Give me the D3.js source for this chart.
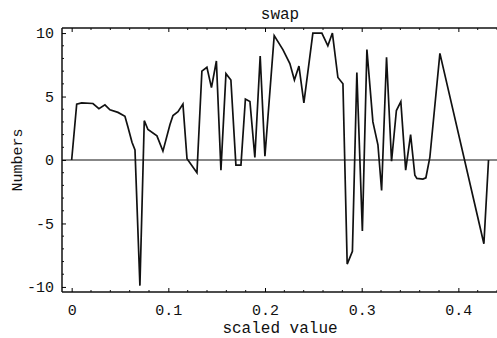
<!DOCTYPE html>
<html>
<head>
<meta charset="utf-8">
<script src="https://cdn.jsdelivr.net/npm/d3@7"></script>
<style>
  html, body { margin: 0; padding: 0; background: #fff; }
  svg { display: block; }
  text { font-family: "Courier New", Courier, "Liberation Mono", "DejaVu Sans Mono", monospace; fill: #111; }
</style>
</head>
<body>
<svg id="chart" width="497" height="338"></svg>
<script>
const titleText = "swap";
const xLabel = "scaled value";
const yLabel = "Numbers";
const xTicks = [0, 0.1, 0.2, 0.3, 0.4];
const xTickLabels = ["0", "0.1", "0.2", "0.3", "0.4"];
const yTicks = [-10, -5, 0, 5, 10];
const yTickLabels = ["-10", "-5", "0", "5", "10"];

const xValues = [0, 0.0052, 0.0103, 0.0220, 0.0282, 0.0344, 0.0396, 0.0479, 0.0551, 0.0582,
  0.0624, 0.0655, 0.0706, 0.0751, 0.0789, 0.0882, 0.0944, 0.1017, 0.1048, 0.1100,
  0.1151, 0.1193, 0.1296, 0.1347, 0.1399, 0.1446, 0.1497, 0.1544, 0.1596, 0.1647,
  0.1699, 0.1751, 0.1797, 0.1844, 0.1895, 0.1950, 0.1999, 0.2095, 0.2185, 0.2257,
  0.2304, 0.2351, 0.2402, 0.2495, 0.2588, 0.2650, 0.2697, 0.2754, 0.2806, 0.2850,
  0.2904, 0.2950, 0.3007, 0.3054, 0.3116, 0.3168, 0.3206, 0.3257, 0.3309, 0.3359,
  0.3405, 0.3455, 0.3506, 0.3550, 0.3571, 0.3633, 0.3664, 0.3705, 0.3809, 0.4264,
  0.4312];
const yValues = [0, 4.4, 4.5, 4.45, 4.05, 4.35, 3.95, 3.75, 3.45, 2.6,
  1.4, 0.8, -9.9, 3.1, 2.4, 1.9, 0.7, 2.8, 3.5, 3.8,
  4.4, 0.1, -1.0, 7.0, 7.3, 5.7, 7.8, -0.8, 6.8, 6.3,
  -0.4, -0.4, 4.8, 4.6, 0.2, 8.2, 0.3, 9.8, 8.7, 7.6,
  6.3, 7.4, 4.5, 10, 10, 9.0, 10, 6.5, 6.0, -8.2,
  -7.2, 6.9, -5.6, 8.7, 3.0, 1.2, -2.4, 8.1, -0.1, 3.9,
  4.6, -0.8, 2.0, -1.2, -1.45, -1.5, -1.4, 0.2, 8.4, -6.6,
  0];

const svg = d3.select("#chart");
const mLeft = 62, mRight = 498, mTop = 28, mBottom = 292;

const x = d3.scaleLinear().domain([-0.01, 0.441]).range([mLeft, mRight]);
const y = d3.scaleLinear().domain([-10.4, 10.4]).range([mBottom, mTop]);

// frame
const frame = svg.append("g").attr("stroke", "#111").attr("fill", "none");
frame.append("line").attr("x1", mLeft).attr("x2", mRight).attr("y1", mTop).attr("y2", mTop).attr("stroke-width", 1.3);
frame.append("line").attr("x1", mLeft).attr("x2", mRight).attr("y1", mBottom).attr("y2", mBottom).attr("stroke-width", 1.5);
frame.append("line").attr("x1", mLeft).attr("x2", mLeft).attr("y1", mTop).attr("y2", mBottom).attr("stroke-width", 1.5);

// axes with inward ticks
const xAxisB = d3.axisBottom(x).tickValues(xTicks).tickSize(-4).tickFormat((d, i) => xTickLabels[i]).tickPadding(12);
const gxb = svg.append("g").attr("transform", `translate(0,${mBottom})`).call(xAxisB);
gxb.select(".domain").remove();
gxb.selectAll("text").attr("font-size", 15);

const xAxisT = d3.axisTop(x).tickValues(xTicks).tickSize(-4).tickFormat("");
const gxt = svg.append("g").attr("transform", `translate(0,${mTop})`).call(xAxisT);
gxt.select(".domain").remove();

const minorX = d3.range(0, 0.441, 0.02).filter(v => !xTicks.some(t => Math.abs(t - v) < 1e-6));
const gmx = svg.append("g").attr("stroke", "#111");
gmx.selectAll("line.mb").data(minorX).join("line").attr("class", "mb")
  .attr("x1", d => x(d)).attr("x2", d => x(d)).attr("y1", mBottom).attr("y2", mBottom - 2);
gmx.selectAll("line.mt").data(minorX).join("line").attr("class", "mt")
  .attr("x1", d => x(d)).attr("x2", d => x(d)).attr("y1", mTop).attr("y2", mTop + 2);

const yAxis = d3.axisLeft(y).tickValues(yTicks).tickSize(-4).tickFormat((d, i) => yTickLabels[i]).tickPadding(8);
const gy = svg.append("g").attr("transform", `translate(${mLeft},0)`).call(yAxis);
gy.select(".domain").remove();
gy.selectAll("text").attr("font-size", 15);

const minorY = d3.range(-10, 10.01, 1).filter(v => !yTicks.includes(v));
svg.append("g").attr("stroke", "#111").selectAll("line").data(minorY).join("line")
  .attr("x1", mLeft).attr("x2", mLeft + 2).attr("y1", d => y(d)).attr("y2", d => y(d));

// zero line
svg.append("line").attr("x1", mLeft).attr("x2", mRight).attr("y1", y(0)).attr("y2", y(0))
  .attr("stroke", "#111").attr("stroke-width", 1.2);

// data line
const pts = xValues.map((v, i) => [v, yValues[i]]);
svg.append("path").datum(pts)
  .attr("fill", "none").attr("stroke", "#111").attr("stroke-width", 1.7).attr("stroke-linejoin", "miter")
  .attr("d", d3.line().x(d => x(d[0])).y(d => y(d[1])));

// labels
svg.append("text").attr("x", (mLeft + mRight) / 2).attr("y", 19).attr("text-anchor", "middle").attr("font-size", 16).text(titleText);
svg.append("text").attr("x", (mLeft + mRight) / 2).attr("y", 333).attr("text-anchor", "middle").attr("font-size", 16).text(xLabel);
svg.append("text").attr("transform", `translate(22,${(mTop + mBottom) / 2}) rotate(-90)`).attr("text-anchor", "middle").attr("font-size", 15).text(yLabel);
</script>
</body>
</html>
